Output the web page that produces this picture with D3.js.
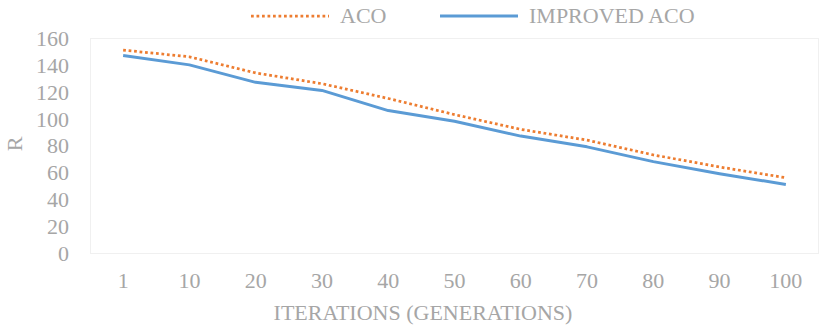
<!DOCTYPE html>
<html>
<head>
<meta charset="utf-8">
<script src="https://cdn.jsdelivr.net/npm/d3@7"></script>
<style>
  html, body { margin: 0; padding: 0; background: #fff; }
  svg { display: block; font-family: "Liberation Serif", "Times New Roman", serif; }
</style>
</head>
<body>
<svg id="chart" width="819" height="328"></svg>
<script>
// Iteration checkpoints (generations)
const iterations = ["1", "10", "20", "30", "40", "50", "60", "70", "80", "90", "100"];
// R value per checkpoint
const acoValues = [151, 146, 134, 126, 115, 103, 92, 84, 73, 64, 56];
const improvedValues = [147, 140, 127, 121, 106, 98, 87, 79, 68, 59, 51];
const yTicks = [0, 20, 40, 60, 80, 100, 120, 140, 160];

const seriesNames = ["ACO", "IMPROVED ACO"];
const seriesColors = ["#ED7D31", "#5B9BD5"];

const svg = d3.select("#chart");
const margin = { left: 90, right: 0, top: 38, bottom: 75 };
const W = 819, H = 328;
const textColor = "#a6a6a6";
const fontSize = 22;
const fontFamily = "Liberation Serif, Times New Roman, serif";

const x = d3.scaleBand().domain(iterations).range([margin.left, W - margin.right]);
const y = d3.scaleLinear().domain([0, 160]).range([H - margin.bottom, margin.top]);

// faint plot-area frame
svg.append("rect")
  .attr("x", margin.left + 0.5).attr("y", margin.top + 0.5)
  .attr("width", W - margin.left - margin.right - 1)
  .attr("height", y(0) - margin.top)
  .attr("fill", "none").attr("stroke", "#f0f0f0").attr("stroke-width", 1);

// y axis labels
const yAxis = d3.axisLeft(y).tickValues(yTicks).tickSize(0).tickPadding(0);
const gy = svg.append("g").attr("transform", `translate(69,0)`).call(yAxis);
gy.attr("font-family", fontFamily);
gy.select(".domain").remove();
gy.selectAll("text").attr("fill", textColor).attr("font-size", fontSize).attr("dy", "0.34em");

// x axis labels
const xAxis = d3.axisBottom(x).tickSize(0).tickPadding(0);
const gx = svg.append("g").attr("transform", `translate(0,${y(0) + 28})`).call(xAxis);
gx.attr("font-family", fontFamily);
gx.select(".domain").remove();
gx.selectAll("text").attr("fill", textColor).attr("font-size", fontSize).attr("dy", "0.34em");

// axis titles
svg.append("text")
  .attr("x", 423).attr("y", 313)
  .attr("text-anchor", "middle").attr("dy", "0.34em")
  .attr("fill", textColor).attr("font-size", fontSize)
  .text("ITERATIONS (GENERATIONS)");

svg.append("text")
  .attr("transform", `translate(14.5,144) rotate(-90)`)
  .attr("text-anchor", "middle").attr("dy", "0.34em")
  .attr("fill", textColor).attr("font-size", fontSize)
  .text("R");

// series lines
const line = d3.line()
  .x((d, i) => x(iterations[i]) + x.bandwidth() / 2)
  .y(d => y(d));

svg.append("path").datum(improvedValues)
  .attr("d", line).attr("fill", "none")
  .attr("stroke", seriesColors[1]).attr("stroke-width", 3)
  .attr("stroke-linejoin", "round");

svg.append("path").datum(acoValues)
  .attr("d", line).attr("fill", "none")
  .attr("stroke", seriesColors[0]).attr("stroke-width", 2.75)
  .attr("stroke-dasharray", "2.75,2.75");

// legend
const legendItems = [
  { name: seriesNames[0], color: seriesColors[0], x0: 251, dash: "2.75,2.75" },
  { name: seriesNames[1], color: seriesColors[1], x0: 440, dash: null }
];
const lg = svg.append("g");
legendItems.forEach(it => {
  lg.append("line")
    .attr("x1", it.x0).attr("x2", it.x0 + 78)
    .attr("y1", 16).attr("y2", 16)
    .attr("stroke", it.color)
    .attr("stroke-width", it.dash ? 2.75 : 3)
    .attr("stroke-dasharray", it.dash);
  lg.append("text")
    .attr("x", it.x0 + 89).attr("y", 16).attr("dy", "0.34em")
    .attr("fill", textColor).attr("font-size", fontSize)
    .text(it.name);
});
</script>
</body>
</html>
